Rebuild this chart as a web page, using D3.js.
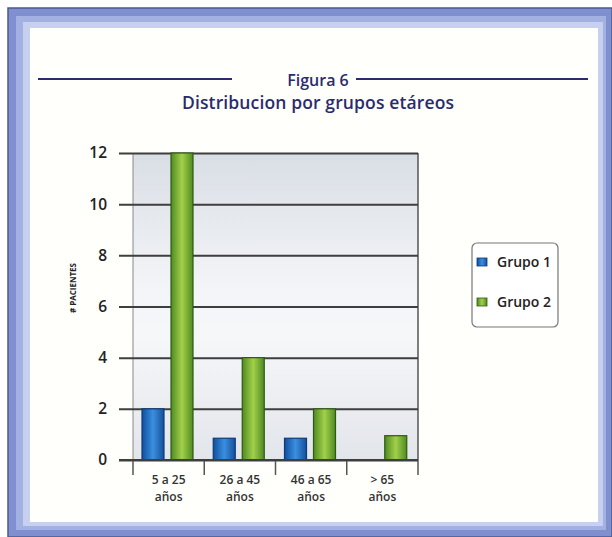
<!DOCTYPE html>
<html>
<head>
<meta charset="utf-8">
<script src="https://cdn.jsdelivr.net/npm/d3@7"></script>
<style>
  body { margin: 0; background: #fff; }
  text { font-family: "Open Sans", "DejaVu Sans", sans-serif; }
</style>
</head>
<body>
<svg width="612" height="537"></svg>
<script>
// data
var categories = ["5 a 25", "26 a 45", "46 a 65", "> 65"];
var subLabel = "años";
var groups = ["Grupo 1", "Grupo 2"];
var grupo1 = [2, 0.85, 0.85, 0];
var grupo2 = [12, 4, 2, 0.95];
var yTicks = [0, 2, 4, 6, 8, 10, 12];

var svg = d3.select("svg"),
    margin = {top: 153, left: 133, right: 194, bottom: 77},
    width = +svg.attr("width") - margin.left - margin.right,
    height = +svg.attr("height") - margin.top - margin.bottom;

var defs = svg.append("defs");

function lin(id, x1, y1, x2, y2, stops) {
  var g = defs.append("linearGradient").attr("id", id)
      .attr("x1", x1).attr("y1", y1).attr("x2", x2).attr("y2", y2);
  stops.forEach(function(s) {
    g.append("stop").attr("offset", s[0]).attr("stop-color", s[1]);
  });
}
lin("bgPlot", 0, 0, 0, 1, [[0, "#d9dee5"], [0.45, "#f4f5f8"], [0.6, "#f6f7f9"], [1, "#e2e5ea"]]);
lin("blueBar", 0, 0, 1, 0, [[0, "#0f4f9e"], [0.5, "#3b8fe0"], [1, "#164f9a"]]);
lin("greenBar", 0, 0, 1, 0, [[0, "#4f8a22"], [0.5, "#a2d04a"], [1, "#4f8a22"]]);

// outer frame
svg.append("rect").attr("x", 8).attr("y", 8).attr("width", 604).attr("height", 529)
    .attr("fill", "#7f8fd0");
svg.append("rect").attr("x", 8).attr("y", 8).attr("width", 604).attr("height", 529)
    .attr("fill", "none").attr("stroke", "#4a5a90").attr("stroke-width", 1.5);
svg.append("rect").attr("x", 16).attr("y", 16).attr("width", 590).attr("height", 514)
    .attr("fill", "#a2b0e2");
svg.append("rect").attr("x", 23).attr("y", 22).attr("width", 580).attr("height", 504)
    .attr("fill", "#c8d0f0");
svg.append("rect").attr("x", 30).attr("y", 28).attr("width", 568).attr("height", 494)
    .attr("fill", "#fffffb");

// title
var cx = 318;
svg.append("text").attr("x", cx).attr("y", 86).attr("text-anchor", "middle")
    .attr("fill", "#2b2b6e").attr("font-size", 16).attr("font-weight", 600)
    .text("Figura 6");
svg.append("text").attr("x", cx).attr("y", 109).attr("text-anchor", "middle")
    .attr("fill", "#2b2b6e").attr("font-size", 17.5).attr("font-weight", 600)
    .attr("textLength", 272).attr("lengthAdjust", "spacing")
    .text("Distribucion por grupos etáreos");
svg.append("line").attr("x1", 38).attr("x2", 232).attr("y1", 79).attr("y2", 79)
    .attr("stroke", "#2b2b6e").attr("stroke-width", 2);
svg.append("line").attr("x1", 356).attr("x2", 588).attr("y1", 79).attr("y2", 79)
    .attr("stroke", "#2b2b6e").attr("stroke-width", 2);

var g = svg.append("g").attr("transform", "translate(" + margin.left + "," + margin.top + ")");

var xCat = d3.scaleBand().domain(categories).range([0, width]);
var x1 = d3.scaleBand().domain(groups).range([9, 60]).paddingInner(0.2414);
var y = d3.scaleLinear().domain([0, 12]).range([height, 0]);

// plot background
g.append("rect").attr("width", width).attr("height", height).attr("fill", "url(#bgPlot)");
g.append("line").attr("x1", 0).attr("x2", 0).attr("y1", 0).attr("y2", height)
    .attr("stroke", "#888").attr("stroke-width", 1);
g.append("line").attr("x1", width).attr("x2", width).attr("y1", 0).attr("y2", height + 15)
    .attr("stroke", "#555").attr("stroke-width", 1.5);

// gridlines + y labels
var yAxis = d3.axisLeft(y).tickValues(yTicks).tickSize(-width - 14).tickPadding(10);
var ya = g.append("g").attr("transform", "translate(-14,0)").call(yAxis);
ya.select(".domain").remove();
ya.selectAll(".tick line").attr("stroke", "#3e3e3e").attr("stroke-width", 2);
ya.selectAll(".tick text").attr("font-size", 15.5).attr("font-weight", 600)
    .attr("fill", "#222").attr("x", -12).attr("font-family", "'Open Sans', sans-serif");

// x axis ticks at category boundaries
var xa = g.append("g").attr("transform", "translate(0," + height + ")");
xa.selectAll("line.sep").data(categories).enter().append("line")
    .attr("x1", function(d) { return xCat(d); })
    .attr("x2", function(d) { return xCat(d); })
    .attr("y1", 0).attr("y2", 15)
    .attr("stroke", "#555").attr("stroke-width", 1.5);
xa.selectAll("text.cat").data(categories).enter().append("text")
    .attr("class", "cat")
    .attr("x", function(d) { return xCat(d) + xCat.bandwidth() / 2; })
    .attr("y", 24).attr("text-anchor", "middle")
    .attr("font-size", 12).attr("font-weight", 600).attr("fill", "#333")
    .text(function(d) { return d; });
xa.selectAll("text.sub").data(categories).enter().append("text")
    .attr("class", "sub")
    .attr("x", function(d) { return xCat(d) + xCat.bandwidth() / 2; })
    .attr("y", 41).attr("text-anchor", "middle")
    .attr("font-size", 12).attr("font-weight", 600).attr("fill", "#333")
    .text(subLabel);

// bars
var rows = categories.map(function(c, i) { return {cat: c, vals: [grupo1[i], grupo2[i]]}; });
var fills = ["url(#blueBar)", "url(#greenBar)"];
var strokes = ["#0d3b78", "#2f5a15"];
rows.forEach(function(r) {
  r.vals.forEach(function(v, j) {
    if (!v) return;
    g.append("rect")
      .attr("x", xCat(r.cat) + x1(groups[j]))
      .attr("y", y(v))
      .attr("width", x1.bandwidth())
      .attr("height", height - y(v))
      .attr("fill", fills[j]).attr("stroke", strokes[j]).attr("stroke-width", 1.2);
  });
});

// baseline
g.append("line").attr("x1", -14).attr("x2", width).attr("y1", height).attr("y2", height)
    .attr("stroke", "#3e3e3e").attr("stroke-width", 2);

// y title
svg.append("text").attr("transform", "translate(76,288) rotate(-90)")
    .attr("text-anchor", "middle").attr("font-size", 8).attr("font-weight", 700)
    .attr("textLength", 50).attr("lengthAdjust", "spacingAndGlyphs")
    .attr("fill", "#222").attr("font-family", "'Liberation Sans Narrow', 'DejaVu Sans Condensed', sans-serif")
    .text("# PACIENTES");

// legend
var lg = svg.append("g").attr("transform", "translate(472,243)");
lg.append("rect").attr("width", 86).attr("height", 84).attr("rx", 5)
    .attr("fill", "#fff").attr("stroke", "#777").attr("stroke-width", 1.2);
groups.forEach(function(name, i) {
  var row = lg.append("g").attr("transform", "translate(5," + (15 + i * 40) + ")");
  row.append("rect").attr("width", 10).attr("height", 8).attr("fill", fills[i]).attr("stroke", strokes[i]).attr("stroke-width", 0.8);
  row.append("text").attr("x", 20).attr("y", 9).attr("font-size", 14).attr("font-weight", 600)
    .attr("fill", "#222").text(name);
});
</script>
</body>
</html>
